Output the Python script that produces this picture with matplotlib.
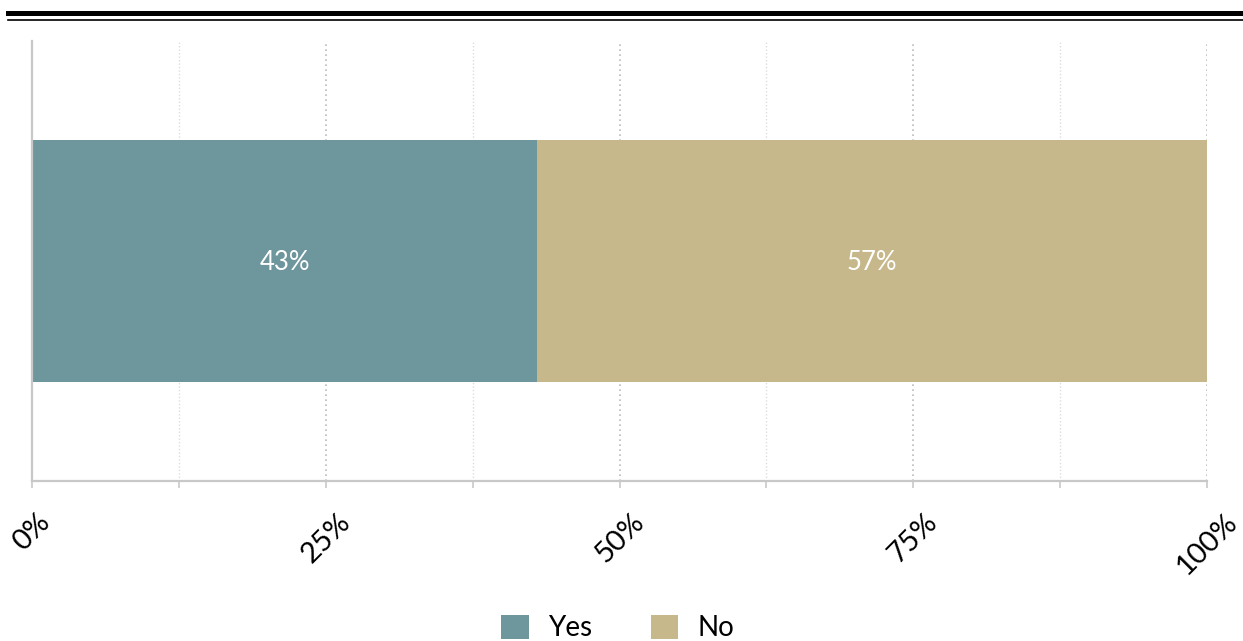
import matplotlib.pyplot as plt
from matplotlib.lines import Line2D
from matplotlib.ticker import MultipleLocator, FuncFormatter

plt.rcParams['font.family'] = ['Lato', 'DejaVu Sans']

# 数据
categories = ["Yes", "No"]
values = [43, 57]
colors = ["#6e969d", "#c6b88a"]

fig = plt.figure(figsize=(12.43, 6.41), dpi=100)
ax = fig.add_axes([32 / 1243, 160 / 641, 1175 / 1243, 440 / 641])

left = 0
for cat, val, col in zip(categories, values, colors):
    ax.barh(0, val, left=left, height=0.55, color=col, label=cat)
    ax.text(left + val / 2, -0.004, f"{val}%", ha="center", va="center",
            color="white", fontsize=18.5)
    left += val

ax.set_xlim(0, 100)
ax.set_ylim(-0.5, 0.5)
ax.set_yticks([])

# 网格线
ax.xaxis.set_major_locator(MultipleLocator(25))
ax.xaxis.set_minor_locator(MultipleLocator(12.5))
ax.xaxis.set_major_formatter(FuncFormatter(lambda v, p: f"{v:.0f}%"))
ax.grid(axis="x", which="major", color="#bbbbbb", linestyle=(0, (1, 2)), linewidth=1.2)
ax.grid(axis="x", which="minor", color="#dddddd", linestyle=(0, (1, 1.5)), linewidth=1)
ax.set_axisbelow(True)

for s in ["top", "right"]:
    ax.spines[s].set_visible(False)
for s in ["left", "bottom"]:
    ax.spines[s].set_color("#c8c8c8")
    ax.spines[s].set_linewidth(1.6)

ax.tick_params(axis="x", which="both", length=5, color="#c8c8c8", width=1.2)
ax.tick_params(axis="x", which="major", labelsize=21, pad=15)
for lbl in ax.get_xticklabels():
    lbl.set_rotation(45)
    lbl.set_ha("center")

# 顶部双线
fig.add_artist(Line2D([8 / 1243, 1], [1 - 12.5 / 641] * 2, color="black", linewidth=3.6))
fig.add_artist(Line2D([8 / 1243, 1], [1 - 19.5 / 641] * 2, color="black", linewidth=1.2))

# 图例
fig.legend(loc="center", bbox_to_anchor=(0.497, 1 - 628 / 641), ncol=2, frameon=False,
           fontsize=20, handlelength=1, handleheight=1, handletextpad=0.7,
           columnspacing=2.1)

plt.savefig("out.png", dpi=100)
